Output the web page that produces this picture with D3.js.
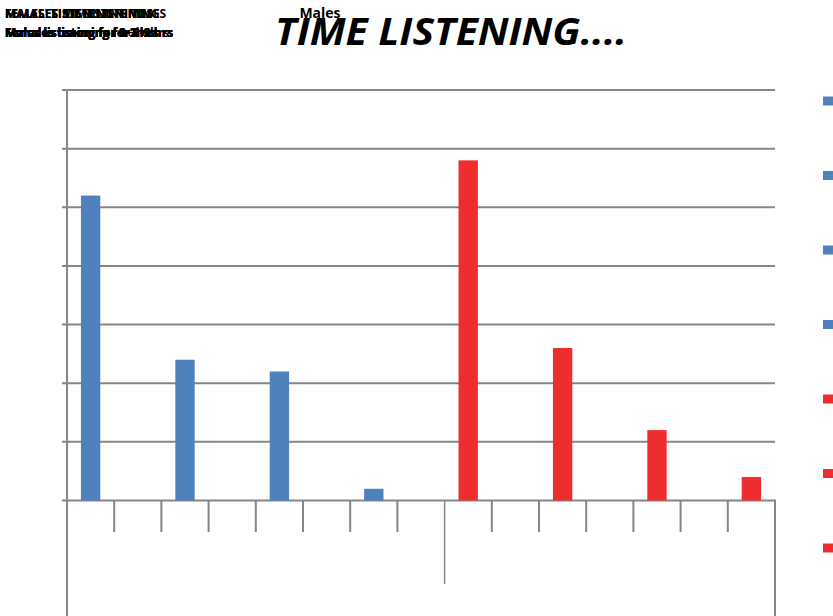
<!DOCTYPE html>
<html>
<head>
<meta charset="utf-8">
<script src="https://cdn.jsdelivr.net/npm/d3@7"></script>
<style>
  html, body { margin: 0; padding: 0; background: #fff; }
  svg { display: block; }
</style>
</head>
<body>
<div id="chart"></div>
<script>
// Series shown as bars, one bar per series
const seriesNames = [
  "Males listening for 0-1 hrs", "Males listening for 1-2 hrs", "Males listening for 2-3 hrs", "Males listening for 3+ hrs",
  "Females listening for 0-1 hrs", "Females listening for 1-2 hrs", "Females listening for 2-3 hrs", "Females listening for 3+ hrs"
];
const seriesValues = [5.2, 2.4, 2.2, 0.2, 5.8, 2.6, 1.2, 0.4];
const seriesGroup = ["Males", "Males", "Males", "Males", "Females", "Females", "Females", "Females"];
const groupNames = ["MALES' LISTENING TIMES", "FEMALES' LISTENING TIMES", "MALES' TIME LISTENING", "FEMALES' TIME LISTENING"];
const yTicks = [0, 1, 2, 3, 4, 5, 6, 7];
const slotCount = 15;

const W = 833, H = 616;
const colors = d3.scaleOrdinal().domain(["Males", "Females"]).range(["#4f81bd", "#ee2e2e"]);

const svg = d3.select("#chart").append("svg").attr("width", W).attr("height", H);

const x = d3.scaleBand().domain(d3.range(slotCount)).range([67, 775]).padding(0);
const y = d3.scaleLinear().domain([0, 7]).range([500.5, 90]);
const barW = x.bandwidth() * 0.41;
const gridColor = "#868686";

// Horizontal gridlines, with a short stub left of the value axis
svg.append("g").selectAll("line").data(yTicks).join("line")
  .attr("x1", 62).attr("x2", 775)
  .attr("y1", d => y(d)).attr("y2", d => y(d))
  .attr("stroke", gridColor).attr("stroke-width", 2);

// Value axis line
svg.append("line")
  .attr("x1", 67).attr("x2", 67).attr("y1", y(7) - 1).attr("y2", H)
  .attr("stroke", gridColor).attr("stroke-width", 2);

// Category axis: short ticks between slots, long tick between groups, outer edge
const boundaries = d3.range(1, slotCount).map(i => x(i));
const groupSplit = 8;
svg.append("g").selectAll("line").data(boundaries).join("line")
  .attr("x1", d => d).attr("x2", d => d)
  .attr("y1", y(0))
  .attr("y2", (d, i) => (i + 1 === groupSplit ? 584 : 532))
  .attr("stroke", gridColor)
  .attr("stroke-width", (d, i) => (i + 1 === groupSplit ? 1.5 : 2));
svg.append("line")
  .attr("x1", 775).attr("x2", 775).attr("y1", y(0) - 1).attr("y2", H)
  .attr("stroke", gridColor).attr("stroke-width", 2);

// Bars, every other slot
svg.append("g").selectAll("rect").data(seriesValues).join("rect")
  .attr("x", (d, i) => x(i * 2) + (x.bandwidth() - barW) / 2)
  .attr("width", barW)
  .attr("y", d => y(d))
  .attr("height", d => y(0) - y(d))
  .attr("fill", (d, i) => colors(seriesGroup[i]));

// Legend on the right edge
const legend = svg.append("g").selectAll("g").data(seriesNames).join("g")
  .attr("transform", (d, i) => `translate(823, ${101 + i * 74.5})`);
legend.append("rect")
  .attr("x", 0).attr("y", -4.5).attr("width", 10).attr("height", 9)
  .attr("fill", (d, i) => colors(seriesGroup[i]));
legend.append("text")
  .attr("x", 14).attr("dy", "0.35em")
  .style("font", "12px 'Open Sans', sans-serif")
  .text(d => d);

// Titles
svg.append("text")
  .attr("x", 320).attr("y", 18).attr("text-anchor", "middle")
  .style("font", "bold 14px 'Open Sans', sans-serif")
  .text("Males");
svg.append("text")
  .attr("x", 275).attr("y", 45)
  .attr("textLength", 352).attr("lengthAdjust", "spacingAndGlyphs")
  .style("font", "italic bold 38px 'Open Sans', sans-serif")
  .text("TIME LISTENING....");

// Stacked label texts in the top-left corner
svg.append("g").selectAll("text").data(groupNames).join("text")
  .attr("x", 5).attr("y", 18)
  .style("font", "bold 12px 'Open Sans', sans-serif")
  .text(d => d);
svg.append("g").selectAll("text").data(seriesNames).join("text")
  .attr("x", 5).attr("y", 37)
  .style("font", "bold 12px 'Open Sans', sans-serif")
  .text(d => d);
</script>
</body>
</html>
